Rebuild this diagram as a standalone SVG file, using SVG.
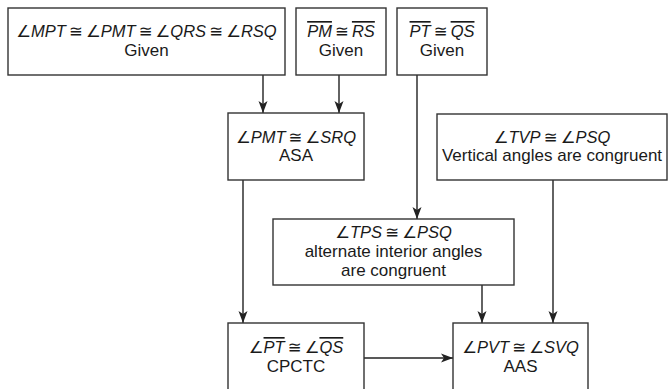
<svg xmlns="http://www.w3.org/2000/svg" width="668" height="389" viewBox="0 0 668 389">
<defs>
<marker id="arr" markerUnits="userSpaceOnUse" markerWidth="13" markerHeight="10" refX="12" refY="5" orient="auto">
<path d="M0,0.5 L12,5 L0,9.5 L3,5 z" fill="#222"/>
</marker>
<style>
.box{fill:#fff;stroke:#333;stroke-width:1.4}
.t{font-family:"Liberation Sans","DejaVu Sans",sans-serif;font-size:17px;fill:#1a1a1a;text-anchor:middle}
.m{font-size:16.5px;word-spacing:-1.5px}
.i{font-style:italic}
.o{font-style:italic;text-decoration:overline}
.c{stroke:#222;stroke-width:1.4;fill:none;marker-end:url(#arr)}
</style>
</defs>
<g id="connectors">
<line class="c" x1="263" y1="75" x2="263" y2="113"/>
<line class="c" x1="339" y1="75" x2="339" y2="113"/>
<line class="c" x1="417" y1="75" x2="417" y2="219"/>
<line class="c" x1="243" y1="180" x2="243" y2="323"/>
<line class="c" x1="482" y1="285" x2="482" y2="323"/>
<line class="c" x1="553" y1="180" x2="553" y2="323"/>
<line class="c" x1="364" y1="358" x2="453" y2="358"/>
</g>
<g id="given1">
<rect class="box" x="8" y="8" width="277" height="67"/>
<text class="t m" x="146.5" y="37"><tspan class="i">∠MPT</tspan> ≅ <tspan class="i">∠PMT</tspan> ≅ <tspan class="i">∠QRS</tspan> ≅ <tspan class="i">∠RSQ</tspan></text>
<text class="t" x="146.5" y="56">Given</text>
</g>
<g id="given2">
<rect class="box" x="296" y="8" width="90" height="67"/>
<text class="t m" x="341" y="37"><tspan class="o">PM</tspan> ≅ <tspan class="o">RS</tspan></text>
<text class="t" x="341" y="56">Given</text>
</g>
<g id="given3">
<rect class="box" x="397" y="8" width="90" height="67"/>
<text class="t m" x="442" y="37"><tspan class="o">PT</tspan> ≅ <tspan class="o">QS</tspan></text>
<text class="t" x="442" y="56">Given</text>
</g>
<g id="asa">
<rect class="box" x="228" y="113" width="136" height="67"/>
<text class="t m" x="296" y="143"><tspan class="i">∠PMT</tspan> ≅ <tspan class="i">∠SRQ</tspan></text>
<text class="t" x="296" y="161">ASA</text>
</g>
<g id="vertical">
<rect class="box" x="437" y="114" width="230" height="66"/>
<text class="t m" x="552" y="143"><tspan class="i">∠TVP</tspan> ≅ <tspan class="i">∠PSQ</tspan></text>
<text class="t" x="552" y="161">Vertical angles are congruent</text>
</g>
<g id="alternate">
<rect class="box" x="273" y="219" width="241" height="66"/>
<text class="t m" x="393.5" y="238"><tspan class="i">∠TPS</tspan> ≅ <tspan class="i">∠PSQ</tspan></text>
<text class="t" x="393.5" y="257">alternate interior angles</text>
<text class="t" x="393.5" y="276">are congruent</text>
</g>
<g id="cpctc">
<rect class="box" x="228" y="323" width="136" height="80"/>
<text class="t m" x="296" y="353"><tspan class="i">∠</tspan><tspan class="o">PT</tspan> ≅ <tspan class="i">∠</tspan><tspan class="o">QS</tspan></text>
<text class="t" x="296" y="372">CPCTC</text>
</g>
<g id="aas">
<rect class="box" x="453" y="323" width="135" height="80"/>
<text class="t m" x="520.5" y="353"><tspan class="i">∠PVT</tspan> ≅ <tspan class="i">∠SVQ</tspan></text>
<text class="t" x="520.5" y="372">AAS</text>
</g>
</svg>
